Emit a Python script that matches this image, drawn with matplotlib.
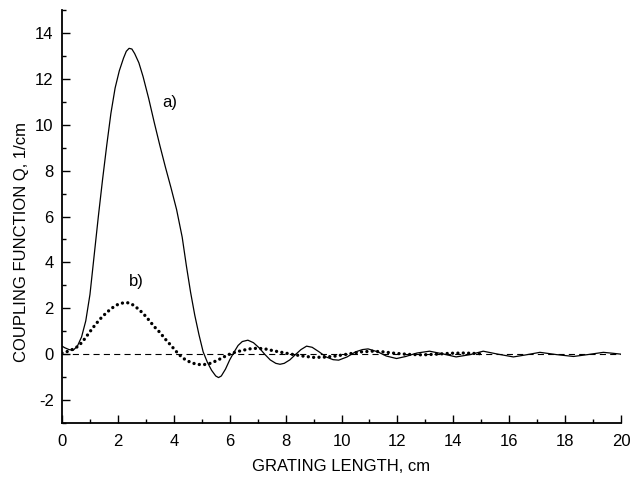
import matplotlib
matplotlib.use("Agg")
import matplotlib.pyplot as plt
from matplotlib.ticker import MultipleLocator

plt.rcParams['font.family'] = ['Liberation Sans', 'DejaVu Sans']
plt.rcParams['axes.unicode_minus'] = False

# curve a) - solid
xa = [0, 0.1, 0.25, 0.4, 0.55, 0.7, 0.85, 1.0, 1.15, 1.3, 1.45, 1.6, 1.75, 1.9,
      2.05, 2.2, 2.3, 2.4, 2.5, 2.6, 2.75, 2.9, 3.1, 3.3, 3.5, 3.7, 3.9, 4.1,
      4.3, 4.45, 4.6, 4.75, 4.9, 5.05, 5.2, 5.35, 5.5, 5.6, 5.7, 5.85, 6.0,
      6.15, 6.3, 6.45, 6.65, 6.85, 7.05, 7.25, 7.45, 7.65, 7.8, 7.95, 8.15,
      8.35, 8.55, 8.75, 8.95, 9.2, 9.45, 9.7, 9.9, 10.2, 10.5, 10.75, 10.95,
      11.3, 11.6, 11.97, 12.3, 12.7, 13.15, 13.6, 14.1, 14.6, 15.07, 15.6,
      16.15, 16.6, 17.1, 17.7, 18.3, 18.8, 19.37, 19.7, 20.0]
ya = [0.35, 0.28, 0.2, 0.17, 0.35, 0.75, 1.45, 2.6, 4.3, 6.0, 7.6, 9.1, 10.5, 11.6,
      12.35, 12.9, 13.2, 13.33, 13.3, 13.1, 12.7, 12.1, 11.15, 10.1, 9.1, 8.15,
      7.25, 6.3, 5.1, 3.85, 2.7, 1.7, 0.85, 0.1, -0.35, -0.7, -0.95, -1.02,
      -0.95, -0.65, -0.25, 0.08, 0.38, 0.55, 0.61, 0.5, 0.28, 0.0, -0.25, -0.4,
      -0.44, -0.4, -0.25, -0.02, 0.2, 0.35, 0.3, 0.1, -0.12, -0.24, -0.26,
      -0.12, 0.1, 0.2, 0.23, 0.1, -0.08, -0.19, -0.1, 0.05, 0.13, 0.02, -0.12,
      -0.02, 0.13, 0.0, -0.12, -0.03, 0.08, -0.02, -0.1, -0.02, 0.08, 0.04, 0.0]

# curve b) - dotted
xb = [0, 0.2, 0.4, 0.6, 0.8, 1.0, 1.2, 1.4, 1.6, 1.8, 2.0, 2.2, 2.35, 2.5, 2.7,
      2.9, 3.1, 3.3, 3.5, 3.7, 3.9, 4.1, 4.3, 4.5, 4.7, 4.9, 5.1, 5.3, 5.5,
      5.7, 5.9, 6.1, 6.4, 6.7, 7.0, 7.3, 7.6, 7.9, 8.2, 8.6, 9.0, 9.4, 9.8,
      10.3, 10.7, 11.1, 11.5, 11.9, 12.4, 12.9, 13.4, 13.9, 14.4, 15.0]
yb = [0.05, 0.12, 0.22, 0.36, 0.65, 0.98, 1.3, 1.58, 1.82, 2.02, 2.17, 2.24,
      2.24, 2.18, 2.0, 1.78, 1.5, 1.2, 0.95, 0.65, 0.38, 0.1, -0.15, -0.3,
      -0.4, -0.45, -0.45, -0.4, -0.3, -0.18, -0.05, 0.05, 0.15, 0.23, 0.26,
      0.22, 0.14, 0.07, 0.0, -0.08, -0.14, -0.13, -0.08, 0.02, 0.1, 0.13, 0.1,
      0.04, -0.01, -0.03, 0.0, 0.04, 0.05, 0.02]

x_zero = [0, 20]
y_zero = [0, 0]

fig = plt.figure(figsize=(6.34, 4.79), dpi=100)
ax = fig.add_axes([0.0978, 0.1169, 0.8817, 0.8622])

ax.plot(x_zero, y_zero, color='black', lw=0.8, linestyle=(0, (5.5, 3.8)))
ax.plot(xa, ya, color='black', lw=0.9)
ax.plot(xb, yb, color='black', lw=2.4, linestyle=(0, (0.01, 1.6)),
        dash_capstyle='round')

ax.text(3.86, 10.99, 'a)', fontsize=12, ha='center', va='center')
ax.text(2.67, 3.16, 'b)', fontsize=12, ha='center', va='center')

ax.set_xlim(0, 20)
ax.set_ylim(-3, 15)
ax.xaxis.set_major_locator(MultipleLocator(2))
ax.xaxis.set_minor_locator(MultipleLocator(1))
ax.yaxis.set_major_locator(MultipleLocator(2))
ax.yaxis.set_minor_locator(MultipleLocator(1))
ax.tick_params(which='both', direction='in', width=1.0, labelsize=12)
ax.tick_params(which='major', length=6)
ax.tick_params(which='minor', length=3.2)
ax.tick_params(axis='x', pad=8)
ax.tick_params(axis='y', pad=6)

for s in ['top', 'right']:
    ax.spines[s].set_visible(False)
for s in ['left', 'bottom']:
    ax.spines[s].set_linewidth(1.3)

ax.set_xlabel('GRATING LENGTH, cm', fontsize=12)
ax.set_ylabel('COUPLING FUNCTION Q, 1/cm', fontsize=12)
ax.xaxis.set_label_coords(0.5, -0.087)
ax.yaxis.set_label_coords(-0.059, 0.438)

fig.savefig('out.png', dpi=100)
